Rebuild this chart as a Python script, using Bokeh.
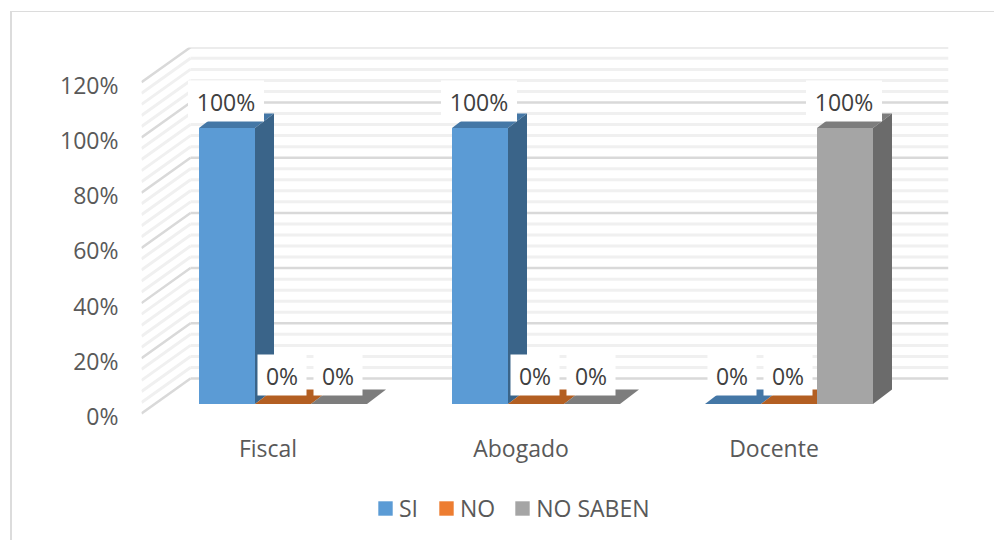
from bokeh.plotting import figure
from bokeh.models import ColumnDataSource, FixedTicker, Legend, LegendItem, Range1d, InlineStyleSheet, LinearAxis
from bokeh.core.properties import value
from bokeh.embed import file_html
from bokeh.resources import INLINE

categories = ["Fiscal", "Abogado", "Docente"]
series_names = ["SI", "NO", "NO SABEN"]
si = [100, 100, 0]
no = [0, 0, 0]
no_saben = [0, 0, 100]
series_values = [si, no, no_saben]
tick_values = [0, 20, 40, 60, 80, 100, 120]

front_colors = ["#5b9bd5", "#c8682a", "#a5a5a5"]
side_colors = ["#3a6489", "#8f4f20", "#6b6b6b"]
top_colors = ["#4477a6", "#b35f22", "#7d7d7d"]
legend_colors = ["#5b9bd5", "#ed7d31", "#a5a5a5"]

FONT = "Open Sans"
W, H = 994, 540
L, R, T, B = 141, 46, 47, 127
PX_X = 253.0
PX_Y = 2.76
DX = lambda px: px / PX_X
DY = lambda px: px / PX_Y

y_start, y_end = -DY(B), (H - T - B) / PX_Y
p = figure(width=W, height=H, output_backend="svg", toolbar_location=None,
           x_range=Range1d(0, (W - L - R) / PX_X), y_range=Range1d(y_start, y_end),
           min_border_left=L, min_border_right=R, min_border_top=T, min_border_bottom=0,
           background_fill_color="white", border_fill_color="white", outline_line_color=None)
p.grid.visible = False
p.stylesheets = [InlineStyleSheet(css=":host::after{content:'';position:absolute;left:10px;top:11px;right:0;bottom:0;"
                                      "border-left:2px solid #dcdcdc;border-top:1.5px solid #dcdcdc;pointer-events:none;}")]

# axes: the tick labels sit slightly below their wall lines, as in the reference
p.xaxis.visible = False
p.yaxis.visible = False
label_shift = DY(2.5)
p.extra_y_ranges = {"labels": Range1d(y_start + label_shift, y_end + label_shift)}
ax = LinearAxis(y_range_name="labels", ticker=FixedTicker(ticks=tick_values),
                major_label_overrides={t: f"{t}%" for t in tick_values},
                major_label_standoff=17, axis_line_color=None, major_tick_line_color=None,
                minor_tick_line_color=None, major_label_text_font=FONT,
                major_label_text_font_size="23px", major_label_text_color="#595959")
p.add_layout(ax, "left")

# walls
WALL_X, WALL_Y = DX(49), DY(35)
x_end = (W - L - R) / PX_X
for major, color, width in ((False, "#f0f0f0", 3), (True, "#d9d9d9", 2.5)):
    for v in range(0, 121, 4):
        if (v % 20 == 0) != major:
            continue
        p.line([0, WALL_X], [v, v + WALL_Y], line_color=color, line_width=width)
        p.line([WALL_X, x_end], [v + WALL_Y, v + WALL_Y], line_color=color, line_width=width)

# bars
BAR_START = DX(57.5)
BAR_W = DX(56)
LIFT = DY(9.5)
BX, BY = DX(19), DY(14.5)
for s, vals in enumerate(series_values):
    for c, v in enumerate(vals):
        x0 = c + BAR_START + s * BAR_W
        x1 = x0 + BAR_W
        y0 = LIFT
        y1 = v + LIFT
        p.patch([x0, x1, x1 + BX, x0 + BX], [y1, y1, y1 + BY, y1 + BY],
                fill_color=top_colors[s], line_color=None)
        if v > 0:
            p.patch([x1, x1 + BX, x1 + BX, x1], [y0, y0 + BY, y1 + BY, y1],
                    fill_color=side_colors[s], line_color=None)
            p.quad(left=x0, right=x1, bottom=y0, top=y1, fill_color=front_colors[s], line_color=None)

# labels
bx, by, bt, bw = [], [], [], []
for s, vals in enumerate(series_values):
    for c, v in enumerate(vals):
        bx.append(c + BAR_START + (s + 0.5) * BAR_W - DX(1))
        by.append(v + LIFT + DY(29 if v == 0 else 27))
        bt.append(f"{v}%")
        bw.append(76 if v == 100 else 49)
src = ColumnDataSource(dict(x=bx, y=by, t=bt, w=bw))
p.rect(x="x", y="y", width="w", height=41, width_units="screen", height_units="screen",
       source=src, fill_color="white", line_color=None)
p.text(x="x", y="y", text="t", source=src, text_align="center", text_baseline="middle", y_offset=1,
       text_font=value(FONT), text_font_size="23px", text_color="#404040")

# category labels
cat_src = ColumnDataSource(dict(x=[i + 0.5 for i in range(len(categories))], y=[-DY(34)] * 3, t=categories))
p.text(x="x", y="y", text="t", source=cat_src, text_align="center", text_baseline="middle",
       text_font=value(FONT), text_font_size="23px", text_color="#595959")

# legend
handles = [p.quad(left=[0], right=[0], bottom=[0], top=[0], fill_color=c, line_color=None) for c in legend_colors]
legend = Legend(items=[LegendItem(label=n, renderers=[h]) for n, h in zip(series_names, handles)],
                orientation="horizontal", location=(235, 16), border_line_color=None,
                background_fill_alpha=0, glyph_width=18, glyph_height=18, label_standoff=5,
                spacing=18, padding=0, margin=0, label_text_font=FONT, label_text_font_size="23px",
                label_text_color="#595959")
p.add_layout(legend, "center")

open("out.html", "w").write(file_html(p, INLINE))
